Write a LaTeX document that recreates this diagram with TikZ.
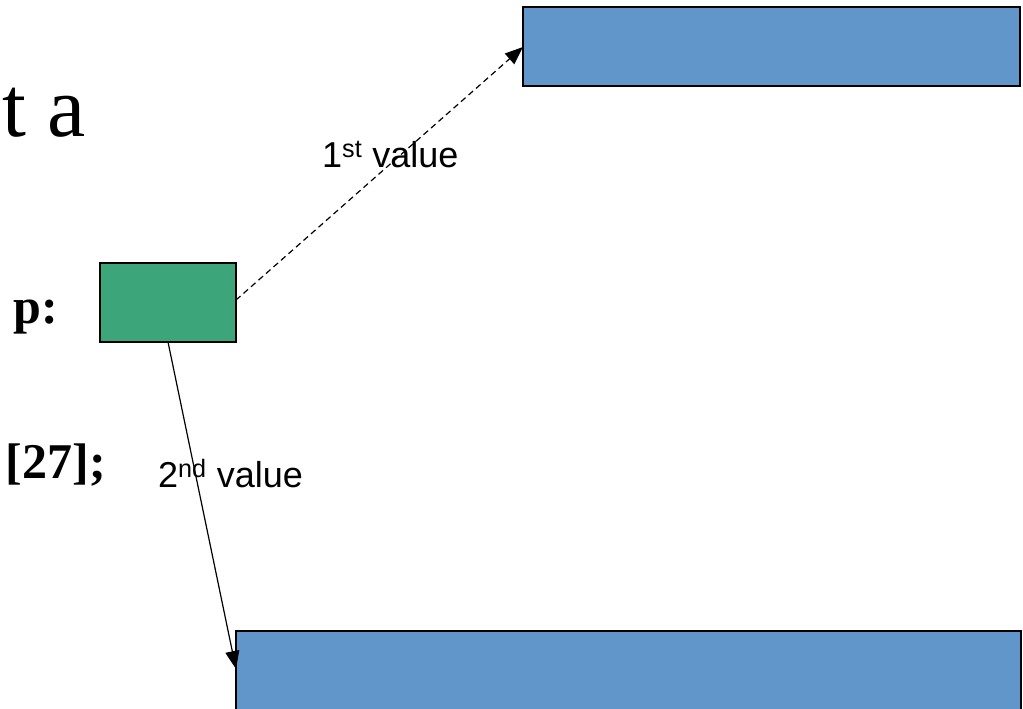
\documentclass[tikz,border=0pt]{standalone}
\usepackage{fontspec}
\setmainfont{Liberation Serif}
\setsansfont{Liberation Sans}
\usetikzlibrary{arrows.meta}
\definecolor{cellblue}{HTML}{6096C9}
\definecolor{cellgreen}{HTML}{3DA57A}
\begin{document}
\begin{tikzpicture}[x=1pt,y=-1pt,
  cell/.style={draw=black,line width=1.4pt},
  link/.style={line width=1.2pt,-{Triangle[length=18pt,width=14pt]}},
  lbl/.style={font=\sffamily\fontsize{36}{36}\selectfont,inner sep=0pt},
  code/.style={font=\bfseries\fontsize{50}{50}\selectfont,inner sep=0pt}]
\useasboundingbox (0,0) rectangle (1023,709);
\clip (0,0) rectangle (1023,709);
% heading fragment and code text on the left
\node[font=\fontsize{86}{86}\selectfont,inner sep=0pt,anchor=base west] (head) at (2,136) {t a};
\node[code,anchor=base east] (plabel) at (58,323) {p:};
\node[code,anchor=base east] (decl) at (106,478) {[27];};
% pointer cell and the two value blocks
\node[cell,fill=cellgreen,minimum width=136pt,minimum height=79pt,inner sep=0pt] (p) at (168,302.5) {};
\node[cell,fill=cellblue,minimum width=497pt,minimum height=79pt,inner sep=0pt] (first) at (771.5,46.5) {};
\node[cell,fill=cellblue,minimum width=785pt,minimum height=110pt,inner sep=0pt] (second) at (628.5,686) {};
% connectors
\coordinate (pr) at (236,300);
\coordinate (pb) at (168,342);
\coordinate (t1) at (523,47);
\coordinate (t2) at (236,669);
\draw[link,dashed,dash pattern=on 6pt off 4pt] (pr) -- (t1);
\draw[link] (pb) -- (t2);
\node[lbl,anchor=base west] (v1) at (322,167) {1\textsuperscript{st} value};
\node[lbl,anchor=base west] (v2) at (158,487) {2\textsuperscript{nd} value};
\end{tikzpicture}
\end{document}
